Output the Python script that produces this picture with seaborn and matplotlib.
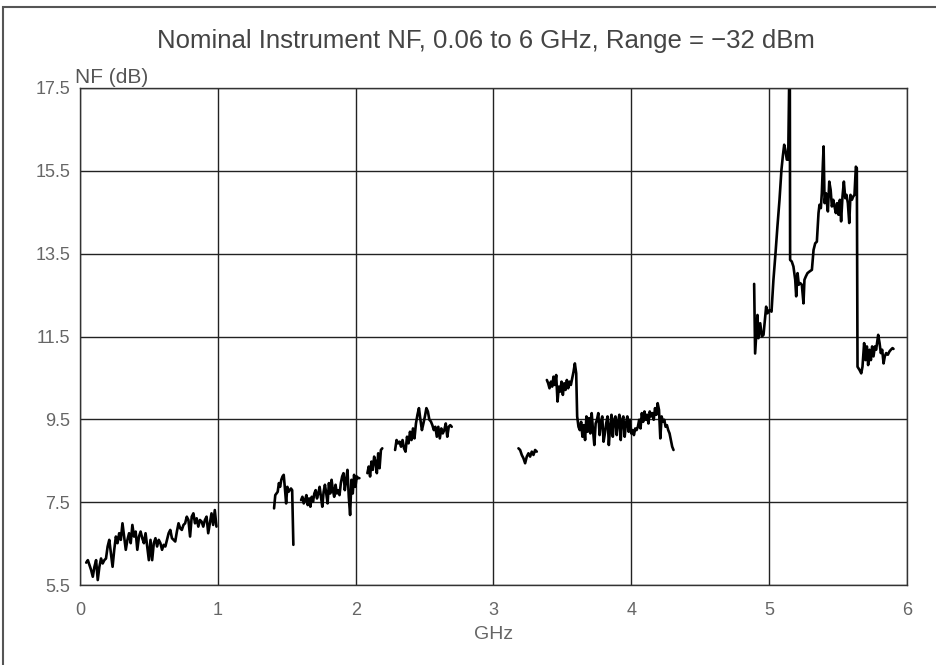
import numpy as np
import pandas as pd
import matplotlib
matplotlib.use("Agg")
import matplotlib.pyplot as plt
import seaborn as sns
from matplotlib.patches import Rectangle

# ---------------- data ----------------
title = "Nominal Instrument NF, 0.06 to 6 GHz, Range = \u221232 dBm"
y_label = "NF (dB)"
x_label = "GHz"
x_ticks = [0, 1, 2, 3, 4, 5, 6]
y_ticks = [5.5, 7.5, 9.5, 11.5, 13.5, 15.5, 17.5]
y_tick_labels = ["5.5", "7.5", "9.5", "11.5", "13.5", "15.5", "17.5"]

# segment 1 : 0.045 .. 0.99 GHz
seg1_range = (0.045, 0.99)
seg1_nf = [6.04, 6.10, 5.98, 5.86, 5.70, 5.94, 6.10, 5.62, 5.94, 6.14, 6.02, 6.10,
           6.14, 6.43, 6.59, 6.26, 5.94, 6.35, 6.67, 6.51, 6.75, 6.59, 6.99, 6.67,
           6.35, 6.59, 6.75, 6.51, 6.95, 6.67, 6.79, 6.35, 6.67, 6.79, 6.63, 6.51,
           6.75, 6.43, 6.10, 6.59, 6.10, 6.51, 6.63, 6.43, 6.59, 6.51, 6.35, 6.47,
           6.43, 6.59, 6.75, 6.83, 6.63, 6.59, 6.55, 6.79, 6.99, 6.87, 6.83, 6.95,
           6.99, 7.15, 7.07, 6.67, 7.15, 7.23, 6.99, 7.11, 6.91, 7.07, 7.03, 6.91,
           7.07, 7.15, 6.75, 6.99, 7.23, 6.95, 7.31, 6.91]

# segment 2a : 1.408 .. 1.548 GHz
seg2a_range = (1.408, 1.548)
seg2a_nf = [7.35, 7.67, 7.71, 7.75, 7.96, 7.87, 8.04, 8.12, 8.16, 7.83, 7.47,
            7.87, 7.75, 7.79, 7.83, 7.79, 6.47]

# segment 2b : 1.604 .. 2.027 GHz
seg2b_range = (1.604, 2.027)
seg2b_nf = [7.55, 7.63, 7.47, 7.55, 7.67, 7.43, 7.59, 7.39, 7.63, 7.51, 7.71,
            7.79, 7.59, 7.71, 7.87, 7.63, 7.39, 7.75, 7.92, 7.71, 7.47, 7.96,
            7.71, 8.04, 7.79, 7.63, 7.92, 7.71, 7.79, 7.67, 7.96, 8.12, 8.20,
            7.79, 8.04, 8.28, 7.63, 7.19, 8.04, 7.71, 8.16, 7.87, 8.12, 8.08, 8.08]

# segment 2c : 2.085 .. 2.193 GHz
seg2c_range = (2.085, 2.193)
seg2c_nf = [8.20, 8.36, 8.12, 8.48, 8.28, 8.60, 8.48, 8.20, 8.68, 8.32, 8.76, 8.80]

# segment 2d : 2.286 .. 2.697 GHz
seg2d_range = (2.286, 2.697)
seg2d_nf = [8.76, 9.00, 8.92, 8.96, 8.84, 9.00, 8.80, 8.72, 9.08, 8.92, 9.20,
            9.00, 9.28, 9.04, 9.40, 9.61, 9.77, 9.49, 9.24, 9.40, 9.57, 9.77,
            9.69, 9.49, 9.45, 9.36, 9.24, 9.32, 9.08, 9.32, 9.04, 9.28, 9.16,
            9.24, 9.40, 9.08, 9.32, 9.36, 9.32]

# segment 3a : 3.181 .. 3.314 GHz
seg3a_range = (3.181, 3.314)
seg3a_nf = [8.80, 8.76, 8.64, 8.56, 8.44, 8.60, 8.68, 8.60, 8.72, 8.64, 8.76, 8.72]

# segment 3b : 3.387 .. 3.600 GHz (continues into 3c)
seg3b_range = (3.387, 3.600)
seg3b_nf = [10.45, 10.37, 10.25, 10.41, 10.29, 10.53, 10.33, 10.57, 9.93, 10.29,
            10.17, 10.41, 10.09, 10.37, 10.21, 10.45, 10.25, 10.41, 10.33, 10.49,
            10.65, 10.85, 10.61]

# segment 3c : 3.607 .. 4.306 GHz
seg3c_range = (3.607, 4.306)
seg3c_nf = [9.57, 9.32, 9.24, 9.44, 9.08, 9.36, 9.00, 9.57, 9.20, 9.53, 9.16,
            9.65, 9.24, 8.88, 9.40, 9.49, 9.65, 9.12, 9.44, 9.57, 8.96, 9.16,
            9.40, 9.57, 8.88, 9.32, 9.61, 9.08, 9.49, 9.57, 9.12, 9.44, 9.61,
            9.00, 9.49, 9.57, 9.08, 9.40, 9.57, 9.20, 9.49, 9.16, 9.24, 9.12,
            9.28, 9.24, 9.32, 9.49, 9.28, 9.65, 9.44, 9.69, 9.49, 9.61, 9.40,
            9.69, 9.57, 9.65, 9.49, 9.77, 9.61, 9.89, 9.73, 9.04, 9.57, 9.44,
            9.49, 9.32, 9.36, 9.24, 9.16, 9.00, 8.84, 8.76]

# segment 4 : 4.89 .. 5.90 GHz (irregular sweep)
seg4_f = [4.891, 4.898, 4.915, 4.922, 4.935, 4.947, 4.959, 4.969, 4.978, 4.988,
          5.002, 5.017, 5.031, 5.046, 5.060, 5.075, 5.089, 5.099, 5.109, 5.118,
          5.128, 5.138, 5.145, 5.150, 5.152, 5.164, 5.176, 5.189, 5.196, 5.206,
          5.215, 5.225, 5.237, 5.249, 5.256, 5.266, 5.278, 5.293, 5.310, 5.322,
          5.334, 5.346, 5.358, 5.365, 5.375, 5.382, 5.390, 5.395, 5.402, 5.412,
          5.419, 5.426, 5.436, 5.446, 5.455, 5.465, 5.474, 5.484, 5.493, 5.503,
          5.513, 5.522, 5.532, 5.542, 5.552, 5.561, 5.571, 5.581, 5.590, 5.600,
          5.610, 5.619, 5.629, 5.636, 5.641, 5.656, 5.668, 5.677, 5.689, 5.699,
          5.709, 5.718, 5.728, 5.738, 5.747, 5.757, 5.767, 5.776, 5.791, 5.801,
          5.810, 5.820, 5.830, 5.839, 5.849, 5.861, 5.873, 5.883, 5.895, 5.902]
seg4_nf = [12.77, 11.09, 12.02, 11.46, 11.82, 11.50, 11.54, 11.90, 12.22, 12.06,
           12.14, 12.10, 12.87, 13.51, 14.16, 14.80, 15.52, 15.85, 16.13, 16.00,
           15.77, 15.77, 17.60, 17.60, 13.35, 13.31, 13.19, 12.87, 12.47, 13.03,
           12.75, 12.79, 12.75, 12.30, 12.87, 12.95, 13.03, 13.07, 13.11, 13.59,
           13.75, 13.79, 14.48, 14.68, 14.60, 14.96, 15.69, 16.09, 14.72, 14.96,
           14.72, 14.52, 15.24, 15.04, 14.64, 14.80, 14.64, 14.48, 14.72, 14.44,
           14.80, 14.28, 14.88, 15.24, 14.84, 14.92, 14.72, 14.24, 14.92, 14.80,
           14.88, 14.92, 15.60, 15.56, 10.77, 10.69, 10.61, 10.77, 11.34, 10.93,
           11.26, 10.81, 11.18, 10.93, 11.26, 11.02, 11.26, 11.18, 11.54, 11.34,
           11.10, 11.18, 10.85, 11.02, 11.10, 11.06, 11.14, 11.18, 11.22, 11.20]

# ---------------- assemble long table ----------------
frames = []
def add(unit, f, nf):
    frames.append(pd.DataFrame({"GHz": f, "NF": nf, "seg": unit}))

add(1, np.linspace(*seg1_range, len(seg1_nf)), seg1_nf)
add(2, np.linspace(*seg2a_range, len(seg2a_nf)), seg2a_nf)
add(3, np.linspace(*seg2b_range, len(seg2b_nf)), seg2b_nf)
add(4, np.linspace(*seg2c_range, len(seg2c_nf)), seg2c_nf)
add(5, np.linspace(*seg2d_range, len(seg2d_nf)), seg2d_nf)
add(6, np.linspace(*seg3a_range, len(seg3a_nf)), seg3a_nf)
add(7, np.concatenate([np.linspace(*seg3b_range, len(seg3b_nf)),
                       np.linspace(*seg3c_range, len(seg3c_nf))]),
    seg3b_nf + seg3c_nf)
add(8, seg4_f, seg4_nf)
df = pd.concat(frames, ignore_index=True)

# ---------------- plot ----------------
sns.set_theme(style="white")
plt.rcParams["font.family"] = ["Liberation Sans", "DejaVu Sans"]

fig = plt.figure(figsize=(9.36, 6.65), dpi=100)
ax = fig.add_axes([80/936, 1-585/665, (907-80)/936, (585-88)/665])

sns.lineplot(data=df, x="GHz", y="NF", units="seg", estimator=None, sort=False,
             color="black", linewidth=1.9, ax=ax)

ax.set_xlim(0, 6)
ax.set_ylim(5.5, 17.5)
ax.set_xticks(x_ticks)
ax.set_xticklabels([str(t) for t in x_ticks])
ax.set_yticks(y_ticks)
ax.set_yticklabels(y_tick_labels)
ax.grid(True, color="#222222", linewidth=1.0)
for s in ax.spines.values():
    s.set_color("#333333")
    s.set_linewidth(1.0)
ax.tick_params(axis="both", length=0, labelsize=13, colors="#666666")
ax.tick_params(axis="x", pad=12)
ax.tick_params(axis="y", pad=7)
ax.set_xlabel(x_label, fontsize=14, color="#666666", labelpad=5)
ax.set_ylabel("")
ax.text(-0.006, 1.002, y_label, transform=ax.transAxes, ha="left", va="bottom",
        fontsize=15, color="#555555")
fig.text(486/936, 1-41/665, title, ha="center", va="center", fontsize=18.5,
         color="#444444")

# outer frame (partly off the canvas at right and bottom)
fig.patches.append(Rectangle((3/936, -0.05), 1.1, 1-7/665+0.05,
                             transform=fig.transFigure, fill=False,
                             edgecolor="#555555", linewidth=1.5))

fig.savefig("out.png", dpi=100)
